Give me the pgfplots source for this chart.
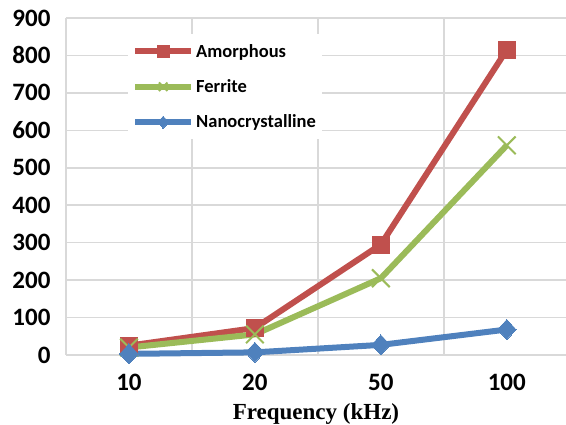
\documentclass[border=0pt]{standalone}
\usepackage{fontspec}
\setmainfont{Carlito}
\newfontfamily\serifb{Liberation Serif}
\usepackage{pgfplots}
\pgfplotsset{compat=1.18}
\definecolor{cred}{HTML}{C0504D}
\definecolor{cgreen}{HTML}{9BBB59}
\definecolor{cblue}{HTML}{4F81BD}
\definecolor{cgrid}{HTML}{D9D9D9}
\begin{document}
\begin{tikzpicture}
\begin{axis}[
 scale only axis, width=500pt, height=337pt,
 xmin=-0.5, xmax=3.47, ymin=0, ymax=900,
 xtick={0,1,2,3}, xticklabels={10,20,50,100},
 minor xtick={-0.5,0.5,1.5,2.5},
 ytick={0,100,...,900},
 xminorgrids, ymajorgrids,
 grid style={cgrid, line width=1.5pt},
 minor grid style={cgrid, line width=1.5pt},
 axis line style={draw=none},
 major tick length=0pt, minor tick length=0pt,
 clip=false,
 /pgf/number format/assume math mode=true,
 tick label style={font=\bfseries\fontsize{25}{30}\selectfont},
 yticklabel style={xshift=-12pt},
 xticklabel style={yshift=-16pt},
 xlabel={\serifb\bfseries Frequency (kHz)},
 xlabel style={font=\fontsize{23}{27}\selectfont, yshift=-6pt},
 legend cell align=left,
 legend style={draw=none, fill=white, at={(0.124,0.953)}, anchor=north west,
   font=\bfseries\fontsize{18.5}{22}\selectfont, row sep=17pt, inner xsep=4pt, inner ysep=8pt},
 legend image code/.code={\draw[mark repeat=2,mark phase=2,mark size=6pt] plot coordinates {(0pt,0pt)(28pt,0pt)(56pt,0pt)};},
 every axis plot/.append style={line width=6pt, line join=round},
]
\coordinate (sw) at (rel axis cs:0,0);
\coordinate (ne) at (rel axis cs:1,1);
\addplot[cred, mark=square*, mark size=8.5pt, mark options={solid, line width=0pt}]
  coordinates {(0,25)(1,72)(2,295)(3,815)};
\addlegendentry{Amorphous}
\addplot[cgreen, mark=x, mark size=12.5pt, mark options={solid, line width=2pt}]
  coordinates {(0,20)(1,55)(2,205)(3,560)};
\addlegendentry{Ferrite}
\addplot[cblue, mark=diamond*, mark size=10pt, mark options={solid, line width=0pt, xscale=1.25}]
  coordinates {(0,3)(1,7)(2,27)(3,68)};
\addlegendentry{Nanocrystalline}
\end{axis}
\pgfresetboundingbox
\path ([shift={(-66pt,-70pt)}]sw) rectangle ([shift={(0pt,18pt)}]ne);
\end{tikzpicture}
\end{document}
